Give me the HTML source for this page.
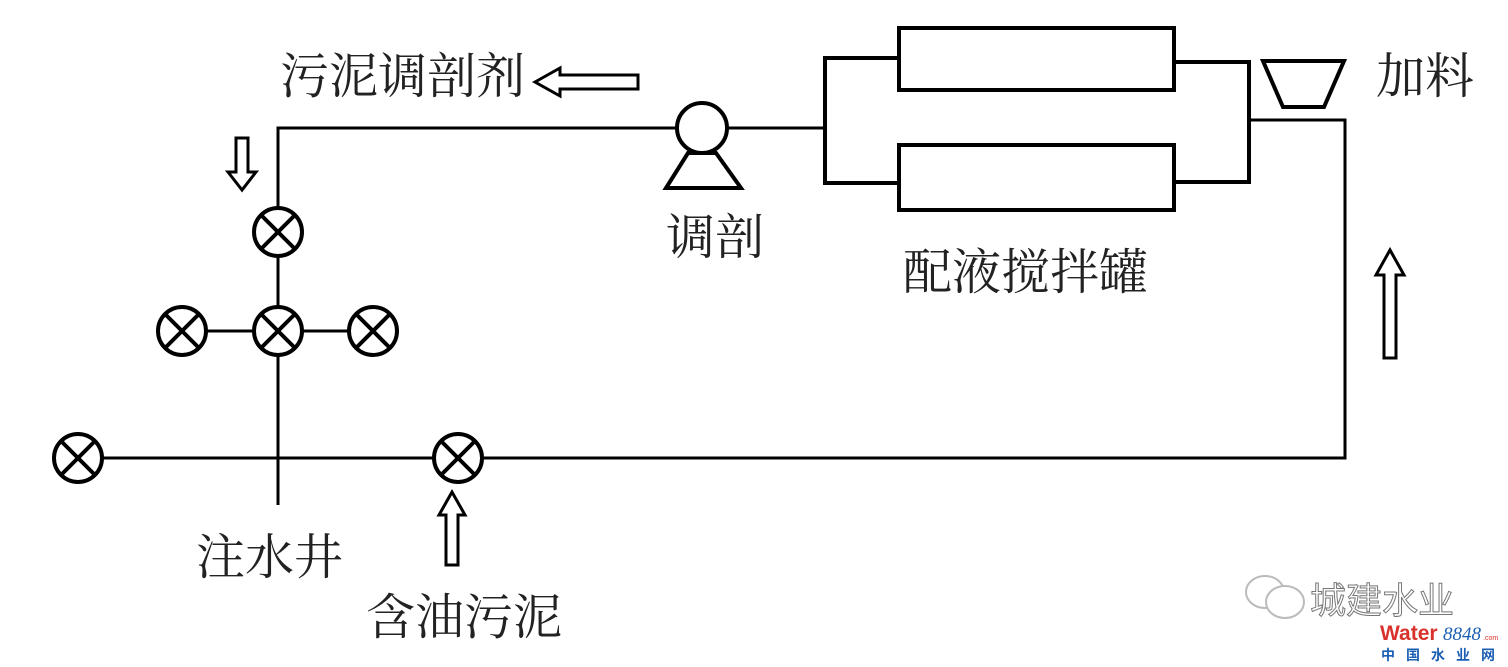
<!DOCTYPE html>
<html><head><meta charset="utf-8"><style>
html,body{margin:0;padding:0;background:#fff;}
svg{display:block}
text.t{font-family:"Liberation Serif","Noto Serif CJK SC",serif;font-size:49px;fill:#222;}
</style></head><body>
<svg width="1508" height="667" viewBox="0 0 1508 667" xmlns="http://www.w3.org/2000/svg">
<g stroke="#000" stroke-width="3" fill="none">
<polyline points="278,505 278,128 677,128"/>
<line x1="727" y1="128" x2="825" y2="128"/>
<line x1="103" y1="458" x2="433" y2="458"/>
<polyline points="483,458 1345,458 1345,120 1249,120"/>
<polyline points="897,58 825,58 825,183 897,183" stroke-width="4"/>
<polyline points="1175,62 1249,62 1249,182 1175,182" stroke-width="4"/>
<rect x="899" y="28" width="275" height="62" stroke-width="4"/>
<rect x="899" y="145" width="275" height="65" stroke-width="4"/>
<polygon points="1263,61 1344,61 1324,107 1283,107" stroke-width="4"/>
<circle cx="702" cy="128" r="25" stroke-width="4" fill="#fff"/>
<polygon points="688,153 716,153 741,188 666,188" stroke-width="4"/>
<line x1="207" y1="331" x2="353" y2="331"/>
</g>
<g stroke="#000" stroke-width="4" fill="#fff">
<g transform="translate(278,232)"><circle r="24"/><line x1="-17" y1="-17" x2="17" y2="17"/><line x1="17" y1="-17" x2="-17" y2="17"/></g>
<g transform="translate(278,331)"><circle r="24"/><line x1="-17" y1="-17" x2="17" y2="17"/><line x1="17" y1="-17" x2="-17" y2="17"/></g>
<g transform="translate(182,331)"><circle r="24"/><line x1="-17" y1="-17" x2="17" y2="17"/><line x1="17" y1="-17" x2="-17" y2="17"/></g>
<g transform="translate(373,331)"><circle r="24"/><line x1="-17" y1="-17" x2="17" y2="17"/><line x1="17" y1="-17" x2="-17" y2="17"/></g>
<g transform="translate(78,458)"><circle r="24"/><line x1="-17" y1="-17" x2="17" y2="17"/><line x1="17" y1="-17" x2="-17" y2="17"/></g>
<g transform="translate(458,458)"><circle r="24"/><line x1="-17" y1="-17" x2="17" y2="17"/><line x1="17" y1="-17" x2="-17" y2="17"/></g>
</g>
<g stroke="#000" stroke-width="3" fill="#fff">
<polygon points="535,82 560,68 560,75 638,75 638,89 560,89 560,96"/>
<polygon points="242,190 228,172 236,172 236,138 248,138 248,172 256,172"/>
<polygon points="1390,250 1376,275 1384,275 1384,358 1396,358 1396,275 1404,275"/>
<polygon points="452,492 439,515 446,515 446,565 458,565 458,515 465,515"/>
</g>
<text class="t" x="280" y="93">污泥调剖剂</text>
<text class="t" x="1376" y="93">加料</text>
<text class="t" x="666" y="254">调剖</text>
<text class="t" x="903" y="289">配液搅拌罐</text>
<text class="t" x="196" y="574">注水井</text>
<text class="t" x="366" y="634">含油污泥</text>
<g stroke="#bbb" stroke-width="2" fill="#fff">
<ellipse cx="1265" cy="592" rx="19" ry="16"/>
<ellipse cx="1285" cy="602" rx="19" ry="16"/>
</g>
<text x="1310" y="613" style="font-family:'Liberation Sans','Noto Sans CJK SC',sans-serif;font-size:36px;fill:#fff;stroke:#777;stroke-width:1">城建水业</text>
<text x="1380" y="640" style="font-family:'Liberation Sans',sans-serif;font-size:21px;font-weight:bold;fill:#d9312b">Water</text>
<text x="1443" y="640" style="font-family:'Liberation Serif',serif;font-size:19px;font-style:italic;fill:#1a5fb4">8848</text>
<text x="1483" y="640" style="font-family:'Liberation Sans',sans-serif;font-size:7px;fill:#d9312b">.com</text>
<text x="1381" y="660" style="font-family:'Liberation Sans','Noto Sans CJK SC',sans-serif;font-size:14px;font-weight:bold;fill:#1a5fb4;letter-spacing:11px">中国水业网</text>
</svg>
</body></html>
